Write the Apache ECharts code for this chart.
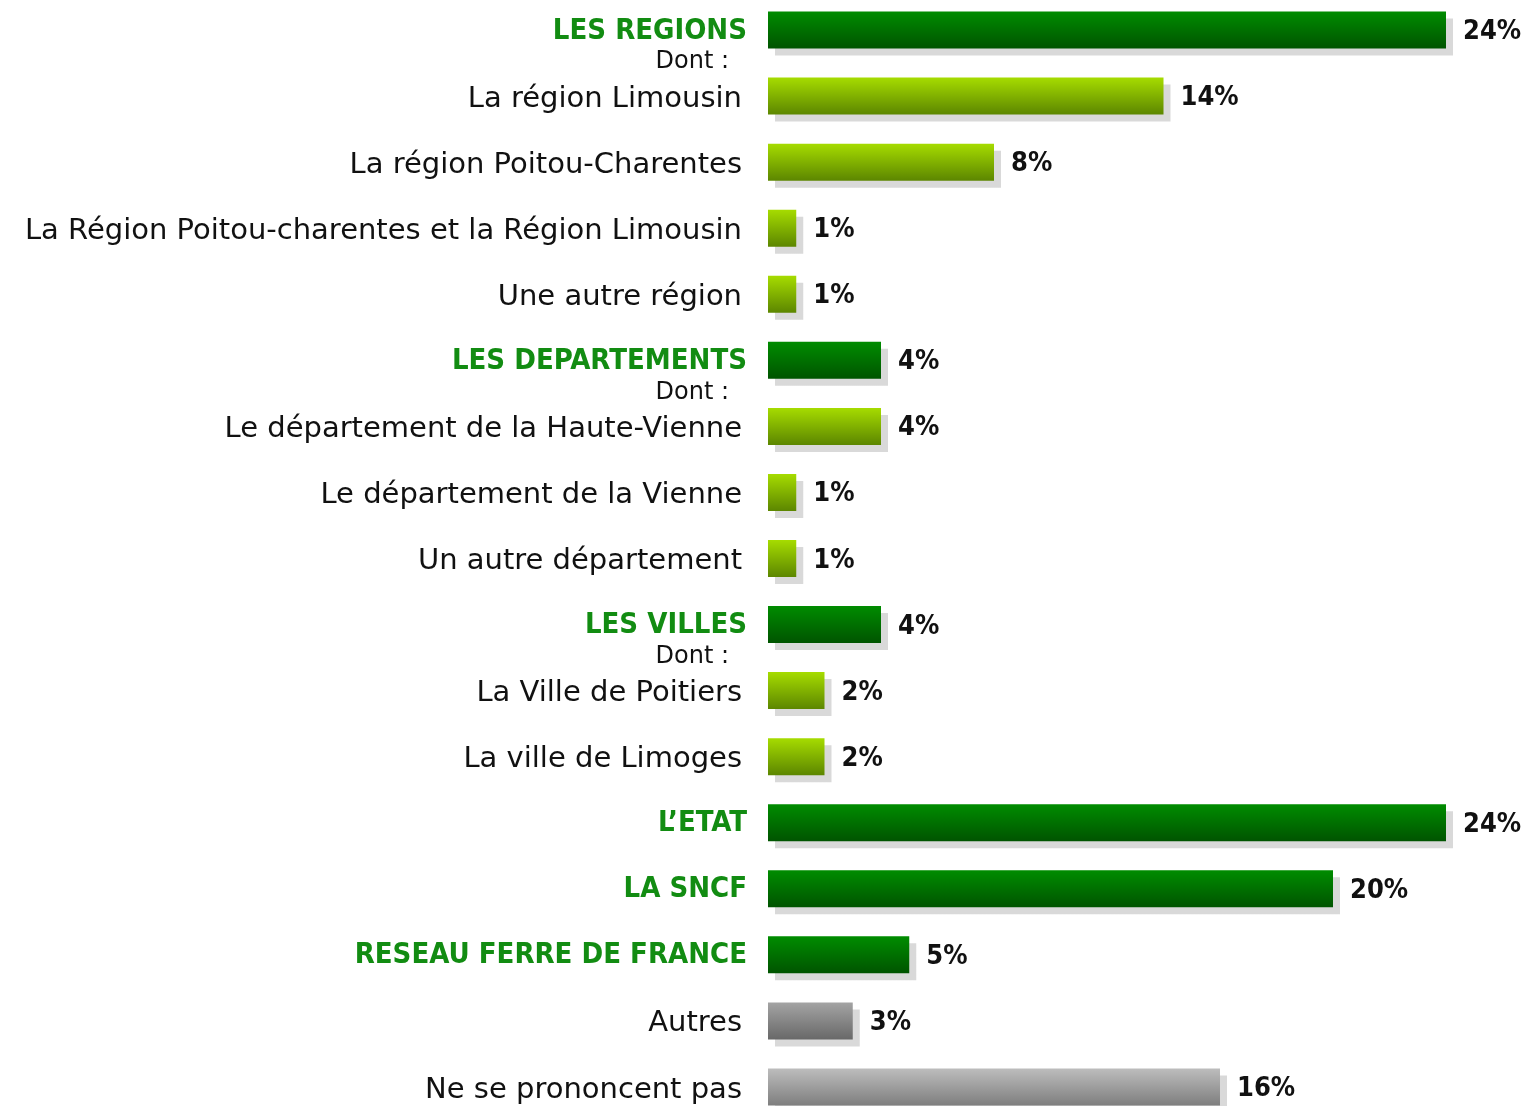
<!DOCTYPE html>
<html>
<head>
<meta charset="utf-8">
<script src="https://cdn.jsdelivr.net/npm/echarts@6/dist/echarts.min.js"></script>
<style>
  html, body { margin: 0; padding: 0; background: #fff; overflow: hidden; }
  #main { position: absolute; left: 0; top: -3px; width: 1526px; height: 1126px; }
</style>
</head>
<body>
<div id="main"></div>
<script>
var categories = [
  'LES REGIONS',
  'La région Limousin',
  'La région Poitou-Charentes',
  'La Région Poitou-charentes et la Région Limousin',
  'Une autre région',
  'LES DEPARTEMENTS',
  'Le département de la Haute-Vienne',
  'Le département de la Vienne',
  'Un autre département',
  'LES VILLES',
  'La Ville de Poitiers',
  'La ville de Limoges',
  'L’ETAT',
  'LA SNCF',
  'RESEAU FERRE DE FRANCE',
  'Autres',
  'Ne se prononcent pas'
];
var values = [24, 14, 8, 1, 1, 4, 4, 1, 1, 4, 2, 2, 24, 20, 5, 3, 16];
var headings = ['LES REGIONS', 'LES DEPARTEMENTS', 'LES VILLES', 'L’ETAT', 'LA SNCF', 'RESEAU FERRE DE FRANCE'];
var others = ['Autres', 'Ne se prononcent pas'];
// groupes suivis d'un "Dont :"
var dontAfter = ['LES REGIONS', 'LES DEPARTEMENTS', 'LES VILLES'];

var FONT = '"DejaVu Sans", Verdana, sans-serif';
var FONT_C = '"DejaVu Sans Condensed", "Liberation Sans Narrow", "DejaVu Sans", sans-serif';

function grad(top, bottom) {
  return new echarts.graphic.LinearGradient(0, 0, 0, 1, [
    { offset: 0, color: top },
    { offset: 1, color: bottom }
  ]);
}

function barColor(name) {
  if (headings.indexOf(name) >= 0) return grad('#008c00', '#005400');
  if (name === 'Autres') return grad('#a4a4a4', '#686868');
  if (others.indexOf(name) >= 0) return grad('#bdbdbd', '#7e7e7e');
  return grad('#a6dc00', '#5c8600');
}

var chart = echarts.init(document.getElementById('main'));

var option = {
  animation: false,
  grid: { left: 768, width: 678, top: 0, height: 1123 },
  xAxis: {
    type: 'value', min: 0, max: 24, show: false
  },
  yAxis: {
    type: 'category',
    inverse: true,
    data: categories,
    axisLine: { show: false },
    axisTick: { show: false },
    axisLabel: {
      margin: 26,
      formatter: function (v) {
        return headings.indexOf(v) >= 0 ? '{g|' + v + '}' : '{n|' + v + '}';
      },
      rich: {
        g: { fontFamily: FONT_C, fontSize: 29, fontWeight: 'bold', color: '#128c12', padding: [2, -5, 0, 0] },
        n: { fontFamily: FONT, fontSize: 29, color: '#111', padding: [6, 0, 0, 0] }
      }
    }
  },
  series: [{
    type: 'bar',
    barWidth: 37,
    data: values.map(function (v, i) {
      return { value: v, itemStyle: { color: barColor(categories[i]) } };
    }),
    itemStyle: {
      shadowColor: '#d9d9d9',
      shadowOffsetX: 7,
      shadowOffsetY: 7,
      shadowBlur: 0
    },
    label: {
      show: true,
      position: 'right',
      distance: 17,
      offset: [0, 2],
      formatter: '{c}%',
      fontFamily: FONT_C,
      fontSize: 27,
      fontWeight: 'bold',
      color: '#111'
    }
  }]
};
chart.setOption(option);

// "Dont :" entre le titre du groupe et la première ligne
var dontTexts = dontAfter.map(function (name) {
  var i = categories.indexOf(name);
  var y0 = chart.convertToPixel({ yAxisIndex: 0 }, categories[i]);
  var y1 = chart.convertToPixel({ yAxisIndex: 0 }, categories[i + 1]);
  return {
    type: 'text',
    x: 729,
    y: (y0 + y1) / 2 - 1,
    style: {
      text: 'Dont :',
      font: '24px ' + FONT,
      fill: '#111',
      align: 'right',
      verticalAlign: 'middle'
    }
  };
});
chart.setOption({ graphic: dontTexts });
</script>
</body>
</html>
